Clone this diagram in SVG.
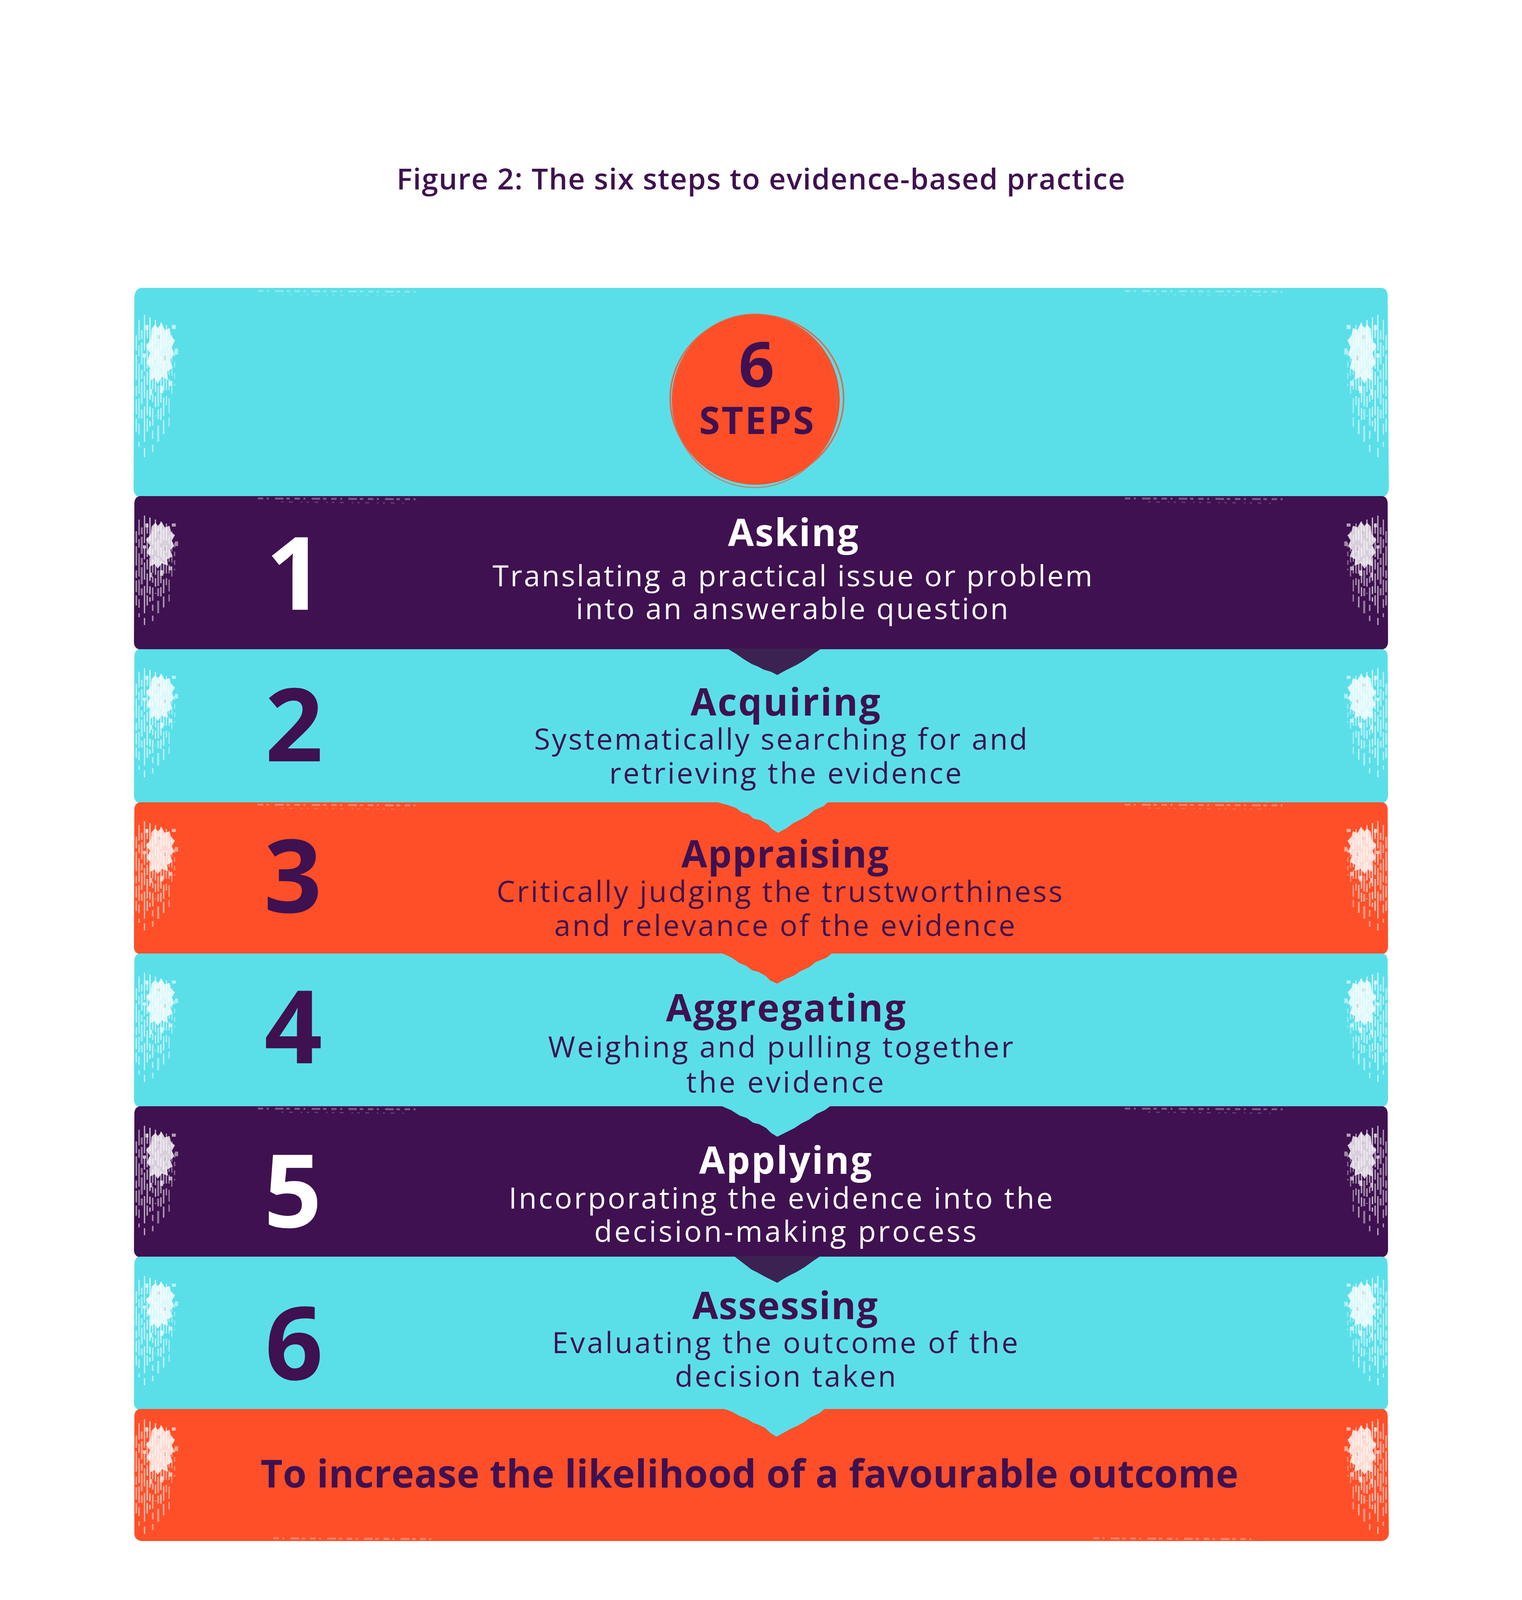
<svg xmlns="http://www.w3.org/2000/svg" xmlns:xlink="http://www.w3.org/1999/xlink" width="3897" height="4413" viewBox="0 0 3897 4413">
  <style>
    .cy { fill: #5ADFE9; }
    .pu { fill: #3F1150; }
    .or { fill: #FF4F28; }
    .t { font-family: "Open Sans", "Liberation Sans", sans-serif; text-anchor: middle; }
    .head { font-size: 96px; font-weight: 700; }
    .body { font-size: 75px; font-weight: 400; }
    .num { font-size: 260px; font-weight: 700; }
    .dk { fill: #3F1150; }
    .wh { fill: #FFFFFF; }
  </style>
  <defs>
    <g id="tex">
      <g fill="#FFFFFF">
        <path d="M44,48 L54,38 L60,46 L70,36 L78,50 L90,46 L94,62 L104,70 L96,84 L102,98 L92,108 L98,124 L84,132 L86,148 L70,142 L60,156 L52,144 L40,150 L42,128 L32,114 L40,96 L30,82 L42,68 Z" opacity="0.8"/>
        <rect x="28" y="40" width="8" height="10" opacity="0.6"/>
        <rect x="96" y="40" width="10" height="8" opacity="0.6"/>
        <rect x="104" y="86" width="8" height="12" opacity="0.5"/>
        <rect x="22" y="96" width="8" height="8" opacity="0.7"/>
        <rect x="66" y="160" width="8" height="14" opacity="0.7"/>
        <rect x="88" y="150" width="8" height="10" opacity="0.6"/>
        <rect x="40" y="166" width="6" height="12" opacity="0.6"/>
        <rect x="58" y="60" width="8" height="8" fill="#000000" opacity="0.12"/>
        <rect x="74" y="100" width="8" height="10" fill="#000000" opacity="0.12"/>
      </g>
      <g stroke="#FFFFFF" fill="none">
        <line x1="5" y1="60" x2="5" y2="250" stroke-width="4" opacity="0.5" stroke-dasharray="30 8 50 12 20 6"/>
        <line x1="12" y1="30" x2="12" y2="280" stroke-width="3" opacity="0.6" stroke-dasharray="40 10 22 14 60 8"/>
        <line x1="19" y1="50" x2="19" y2="230" stroke-width="5" opacity="0.45" stroke-dasharray="18 6 44 10"/>
        <line x1="26" y1="20" x2="26" y2="300" stroke-width="3" opacity="0.7" stroke-dasharray="70 12 30 8 44 16"/>
        <line x1="33" y1="40" x2="33" y2="260" stroke-width="4" opacity="0.55" stroke-dasharray="26 10 50 6"/>
        <line x1="40" y1="25" x2="40" y2="240" stroke-width="3" opacity="0.8" stroke-dasharray="60 14 20 8"/>
        <line x1="47" y1="60" x2="47" y2="290" stroke-width="4" opacity="0.5" stroke-dasharray="34 10 16 12"/>
        <line x1="54" y1="30" x2="54" y2="220" stroke-width="3" opacity="0.7" stroke-dasharray="48 8 22 16"/>
        <line x1="61" y1="50" x2="61" y2="270" stroke-width="5" opacity="0.45" stroke-dasharray="20 12 40 6"/>
        <line x1="68" y1="35" x2="68" y2="235" stroke-width="3" opacity="0.7" stroke-dasharray="56 10 24 12"/>
        <line x1="75" y1="55" x2="75" y2="255" stroke-width="4" opacity="0.55" stroke-dasharray="28 14 36 8"/>
        <line x1="82" y1="40" x2="82" y2="200" stroke-width="3" opacity="0.6" stroke-dasharray="44 12 18 10"/>
        <line x1="89" y1="70" x2="89" y2="240" stroke-width="3" opacity="0.5" stroke-dasharray="22 16 30 8"/>
        <line x1="96" y1="60" x2="96" y2="180" stroke-width="3" opacity="0.45" stroke-dasharray="16 10 26 12"/>
        <line x1="103" y1="90" x2="103" y2="160" stroke-width="3" opacity="0.4" stroke-dasharray="12 10"/>
      </g>
    </g>
    <g id="speck">
      <line x1="0" y1="0" x2="420" y2="2" stroke="#FFFFFF" stroke-width="5" stroke-dasharray="14 9 5 16 22 7 9 12" opacity="0.3"/>
      <line x1="60" y1="9" x2="380" y2="12" stroke="#FFFFFF" stroke-width="3" stroke-dasharray="6 14 10 20 4 11" opacity="0.2"/>
    </g>
  </defs>

  <rect x="0" y="0" width="3897" height="4413" fill="#FFFFFF"/>

  <g id="title">
    <text class="t" x="1948" y="485" font-size="75" font-weight="600" fill="#3F1150" textLength="1865">Figure 2: The six steps to evidence-based practice</text>
  </g>

  <g id="header">
    <path class="cy" d="M362,737 L3538,737 Q3552,739 3553,756 L3556,1250 Q3554,1271 3536,1273 L360,1273 Q343,1271 342,1252 L344,760 Q346,739 362,737 Z"/>
    <use xlink:href="#tex" transform="translate(344,780) scale(1,1.3)"/>
    <use xlink:href="#tex" transform="translate(3554,780) scale(-1,1.3)"/>
    <use xlink:href="#speck" transform="translate(660,745)"/>
    <use xlink:href="#speck" transform="translate(2880,745)"/>
    <ellipse cx="1935" cy="1023" rx="215" ry="218" fill="#FF4F28"/>
    <ellipse cx="1938" cy="1020" rx="222" ry="214" fill="none" stroke="#FF4F28" stroke-width="4" opacity="0.8"/>
    <ellipse cx="1932" cy="1026" rx="210" ry="222" fill="none" stroke="#E8603F" stroke-width="3" opacity="0.7"/>
    <text class="t" x="1937" y="990" font-size="160" font-weight="700" fill="#3F1150">6</text>
    <text class="t" x="1937" y="1111" font-size="97" font-weight="700" fill="#3F1150" textLength="294">STEPS</text>
  </g>

  <g id="step1">
    <path class="pu" d="M358,1270 L3540,1270 Q3552,1272 3553,1288 L3554,1645 Q3552,1662 3536,1663 L360,1663 Q344,1661 343,1645 L344,1288 Q345,1272 358,1270 Z"/>
    <use xlink:href="#tex" transform="translate(344,1300)"/>
    <use xlink:href="#tex" transform="translate(3554,1300) scale(-1,1)"/>
    <use xlink:href="#speck" transform="translate(660,1276)"/>
    <use xlink:href="#speck" transform="translate(2880,1276)"/>
    <text class="t num wh" x="755" y="1561">1</text>
    <text class="t head wh" x="2031" y="1398" textLength="334">Asking</text>
    <text class="t body wh" x="2029" y="1501" textLength="1536">Translating a practical issue or problem</text>
    <text class="t body wh" x="2028" y="1585" textLength="1107">into an answerable question</text>
  </g>

  <g id="step2">
    <path class="cy" d="M358,1662 L3540,1662 Q3552,1664 3553,1680 L3554,2038 Q3552,2055 3536,2056 L360,2056 Q344,2054 343,2038 L344,1680 Q345,1664 358,1662 Z"/>
    <use xlink:href="#tex" transform="translate(344,1690)"/>
    <use xlink:href="#tex" transform="translate(3554,1690) scale(-1,1)"/>
    <text class="t num dk" x="753" y="1949">2</text>
    <text class="t head dk" x="2011" y="1832" textLength="486">Acquiring</text>
    <text class="t body dk" x="1999" y="1919" textLength="1263">Systematically searching for and</text>
    <text class="t body dk" x="2011" y="2006" textLength="902">retrieving the evidence</text>
  </g>

  <g id="step3">
    <path class="or" d="M358,2054 L3540,2054 Q3552,2056 3553,2072 L3554,2425 Q3552,2442 3536,2443 L360,2443 Q344,2441 343,2425 L344,2072 Q345,2056 358,2054 Z"/>
    <use xlink:href="#tex" transform="translate(344,2082)"/>
    <use xlink:href="#tex" transform="translate(3554,2082) scale(-1,1)"/>
    <use xlink:href="#speck" transform="translate(660,2060)"/>
    <use xlink:href="#speck" transform="translate(2880,2060)"/>
    <text class="t num dk" x="750" y="2336">3</text>
    <text class="t head dk" x="2010" y="2221" textLength="531">Appraising</text>
    <text class="t body dk" x="1996" y="2309" textLength="1449">Critically judging the trustworthiness</text>
    <text class="t body dk" x="2009" y="2396" textLength="1180">and relevance of the evidence</text>
  </g>

  <g id="step4">
    <path class="cy" d="M358,2441 L3540,2441 Q3552,2443 3553,2459 L3554,2816 Q3552,2833 3536,2834 L360,2834 Q344,2832 343,2816 L344,2459 Q345,2443 358,2441 Z"/>
    <use xlink:href="#tex" transform="translate(344,2470)"/>
    <use xlink:href="#tex" transform="translate(3554,2470) scale(-1,1)"/>
    <text class="t num dk" x="751" y="2722">4</text>
    <text class="t head dk" x="2012" y="2615" textLength="614">Aggregating</text>
    <text class="t body dk" x="1999" y="2707" textLength="1191">Weighing and pulling together</text>
    <text class="t body dk" x="2010" y="2797" textLength="506">the evidence</text>
  </g>

  <g id="step5">
    <path class="pu" d="M358,2832 L3540,2832 Q3552,2834 3553,2850 L3554,3201 Q3552,3218 3536,3219 L360,3219 Q344,3217 343,3201 L344,2850 Q345,2834 358,2832 Z"/>
    <use xlink:href="#tex" transform="translate(344,2862)"/>
    <use xlink:href="#tex" transform="translate(3554,2862) scale(-1,1)"/>
    <use xlink:href="#speck" transform="translate(660,2838)"/>
    <use xlink:href="#speck" transform="translate(2880,2838)"/>
    <text class="t num wh" x="750" y="3142">5</text>
    <text class="t head wh" x="2011" y="3005" textLength="442">Applying</text>
    <text class="t body wh" x="1999" y="3094" textLength="1393">Incorporating the evidence into the</text>
    <text class="t body wh" x="2011" y="3179" textLength="979">decision-making process</text>
  </g>

  <g id="step6">
    <path class="cy" d="M358,3217 L3540,3217 Q3552,3219 3553,3235 L3554,3592 Q3552,3609 3536,3610 L360,3610 Q344,3608 343,3592 L344,3235 Q345,3219 358,3217 Z"/>
    <use xlink:href="#tex" transform="translate(344,3246)"/>
    <use xlink:href="#tex" transform="translate(3554,3246) scale(-1,1)"/>
    <text class="t num dk" x="753" y="3532">6</text>
    <text class="t head dk" x="2010" y="3377" textLength="475">Assessing</text>
    <text class="t body dk" x="2010" y="3464" textLength="1193">Evaluating the outcome of the</text>
    <text class="t body dk" x="2011" y="3550" textLength="566">decision taken</text>
  </g>

  <g id="outcome">
    <path class="or" d="M358,3607 L3540,3607 Q3552,3609 3553,3625 L3556,3926 Q3554,3944 3536,3945 L362,3945 Q345,3943 344,3926 L344,3625 Q345,3609 358,3607 Z"/>
    <use xlink:href="#tex" transform="translate(344,3612) scale(1,1.05)"/>
    <use xlink:href="#tex" transform="translate(3554,3612) scale(-1,1.05)"/>
    <use xlink:href="#speck" transform="translate(700,3938)"/>
    <use xlink:href="#speck" transform="translate(2800,3938)"/>
    <text class="t dk" x="1919" y="3808" font-size="98" font-weight="700" textLength="2504">To increase the likelihood of a favourable outcome</text>
  </g>

  <g id="connectors">
    <path fill="#3C2252" d="M1862,1660 L2104,1660 L2085,1672 L2060,1690 L2040,1702 L2020,1712 L2008,1718 L1990,1728 L1975,1720 L1955,1714 L1940,1706 L1925,1700 L1905,1688 L1885,1674 Z"/>
    <path class="cy" d="M1830,2052 L2122,2052 L2108,2064 L2085,2074 L2068,2088 L2050,2098 L2030,2108 L2014,2120 L1992,2132 L1976,2122 L1966,2110 L1948,2100 L1930,2096 L1916,2084 L1900,2080 L1884,2068 L1860,2060 Z"/>
    <path class="or" d="M1846,2439 L2132,2439 L2116,2452 L2090,2462 L2072,2476 L2050,2486 L2032,2498 L2012,2506 L1990,2518 L1972,2510 L1960,2498 L1942,2488 L1926,2484 L1910,2472 L1894,2466 L1874,2452 Z"/>
    <path class="cy" d="M1844,2830 L2128,2830 L2112,2842 L2090,2852 L2072,2866 L2052,2876 L2034,2888 L2014,2898 L1990,2910 L1974,2900 L1962,2888 L1944,2878 L1928,2874 L1912,2862 L1894,2856 L1872,2842 Z"/>
    <path fill="#3C2252" d="M1880,3216 L2100,3216 L2082,3228 L2060,3244 L2040,3256 L2020,3266 L2006,3274 L1990,3284 L1974,3276 L1958,3268 L1940,3258 L1924,3250 L1906,3236 Z"/>
    <path class="cy" d="M1852,3606 L2112,3606 L2098,3618 L2076,3628 L2060,3640 L2042,3650 L2024,3658 L2010,3666 L1988,3678 L1972,3668 L1960,3656 L1944,3648 L1928,3642 L1912,3632 L1896,3626 L1874,3614 Z"/>
  </g>
</svg>
